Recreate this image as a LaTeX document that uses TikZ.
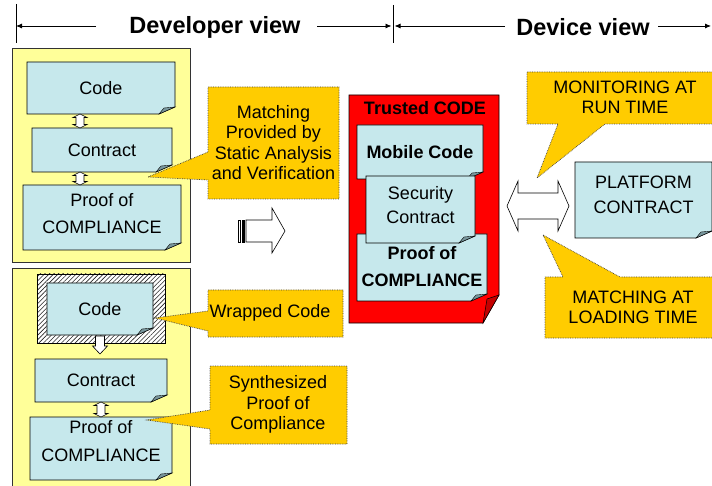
\documentclass[tikz,border=0pt]{standalone}
\usepackage{fontspec}
\setmainfont{Liberation Sans}
\usetikzlibrary{arrows.meta,patterns.meta}
\definecolor{ylw}{RGB}{255,255,153}
\definecolor{cyn}{RGB}{198,232,236}
\definecolor{cynfold}{RGB}{120,150,156}
\definecolor{gold}{RGB}{255,204,0}
\definecolor{tred}{RGB}{255,0,0}
\definecolor{dred}{RGB}{196,0,0}
\tikzset{
  panel/.style={fill=ylw,draw=black!80,line width=0.8pt},
  notebody/.style={fill=cyn,draw=black,line width=0.7pt},
  notefold/.style={fill=cynfold,draw=black,line width=0.4pt},
  txt/.style={font=\fontsize{18}{20}\selectfont,align=center,inner sep=0pt},
  btxt/.style={font=\fontsize{18}{20}\bfseries\selectfont,align=center,inner sep=0pt},
  callout/.style={fill=gold,draw=black!75,densely dotted,line width=0.7pt},
  warrow/.style={fill=white,draw=black,line width=0.6pt},
  hdr/.style={font=\fontsize{23.5}{26}\bfseries\selectfont,inner sep=0pt},
  hline/.style={line width=0.8pt,-{Latex[length=6pt,width=5pt]}},
  tick/.style={line width=0.8pt},
  redbody/.style={fill=tred,draw=black,line width=0.7pt},
  redfold/.style={fill=dred,draw=black,line width=0.5pt},
  hatch/.style={pattern={Lines[angle=45,distance=3.2pt,line width=0.6pt]},pattern color=black!85,draw=black,line width=0.7pt},
}
% folded-corner note: [node opts]{name}{x1}{y1}{x2}{y2}{text}
\newcommand\fnote[7][]{%
  \filldraw[notebody] (#3,#4) -- (#5,#4) -- ({#5},{#6-7}) -- ({#5-16},{#6}) -- (#3,#6) -- cycle;
  \filldraw[notefold] ({#5-16},{#6}) .. controls ({#5-14},{#6-3}) .. ({#5-11},{#6-6}) -- ({#5},{#6-7}) -- cycle;
  \node[txt,#1] (#2) at ({(#3+#5)/2},{(#4+#6)/2}) {#7};
}
% vertical double arrow: cx, ytop, ybot
\newcommand\vdarrow[3]{%
  \filldraw[warrow] (#1,#2) -- ({#1+7},{#2+3.5}) -- ({#1+4},{#2+3.5}) -- ({#1+4},{#3-3.5}) -- ({#1+7},{#3-3.5}) -- (#1,#3)
    -- ({#1-7},{#3-3.5}) -- ({#1-4},{#3-3.5}) -- ({#1-4},{#2+3.5}) -- ({#1-7},{#2+3.5}) -- cycle;
}
\begin{document}
\begin{tikzpicture}[x=1pt,y=-1pt]
\useasboundingbox (0,0) rectangle (712,486);
\fill[white] (0,0) rectangle (712,486);
\clip (0,0) rectangle (712,486);

% ---------- header ----------
\node[hdr] (devv) at (215,27) {Developer view};
\node[hdr] (dvcv) at (583,27) {Device view};
\coordinate (tkA1) at (16,4);  \coordinate (tkA2) at (16,43);
\coordinate (tkB1) at (393,5); \coordinate (tkB2) at (393,43);
\draw[tick] (tkA1) -- (tkA2);
\draw[tick] (tkB1) -- (tkB2);
\coordinate (la) at (96,26);  \coordinate (lb) at (317,26);
\coordinate (lc) at (505,26); \coordinate (ld) at (658,26);
\coordinate (le) at (711,26);
\draw[hline] (la) -- (la -| tkA1);
\draw[hline] (lb) -- ([xshift=-1.5pt]lb -| tkB1);
\draw[hline] (lc) -- ([xshift=1.5pt]lc -| tkB1);
\draw[hline] (ld) -- (le);

% ---------- developer panels ----------
\filldraw[panel] (12,48) rectangle (190,262);
\filldraw[panel] (12,268) rectangle (190,492);

\fnote{code1}{27}{62}{175}{114}{Code}
\fnote{contr1}{32}{128}{172}{172}{Contract}
\fnote[yshift=4pt,font=\fontsize{18}{27}\selectfont]{proof1}{23}{185}{181}{250}{Proof of\\COMPLIANCE}
\vdarrow{80}{114}{128}
\vdarrow{80}{172}{185}

% wrapped code
\fill[white] (37,274) rectangle (165,343);
\filldraw[hatch] (37,274) rectangle (165,343);
\fnote{code2}{47}{283}{153}{335}{Code}
\fnote{contr2}{35}{359}{167}{402}{Contract}
\fnote[yshift=7pt,font=\fontsize{18}{28}\selectfont]{proof2}{30}{417}{172}{480}{Proof of\\COMPLIANCE}
\filldraw[warrow] (95.5,336) -- (104.5,336) -- (104.5,346) -- (107.5,346) -- (100,354) -- (92.5,346) -- (95.5,346) -- cycle;
\vdarrow{101}{402}{417}

% ---------- striped arrow ----------
\filldraw[warrow] (238,220) rectangle (240.5,242);
\filldraw[fill=black,draw=black,line width=0.6pt] (242,220) rectangle (244.5,242);
\filldraw[warrow] (246,220) -- (272,220) -- (272,208) -- (285,231) -- (272,253) -- (272,242) -- (246,242) -- cycle;

% ---------- trusted code ----------
\filldraw[redbody] (349,95) -- (499,95) -- (499,295) -- (483,323) -- (349,323) -- cycle;
\filldraw[redfold] (483,323) -- (487,299) -- (499,295) -- cycle;
\node[btxt] (trusted) at (425,108) {Trusted CODE};
\fnote[font=\fontsize{18}{20}\bfseries\selectfont]{mobile}{357}{125}{483}{179}{Mobile Code}
\fnote[yshift=1pt,font=\fontsize{18}{27}\bfseries\selectfont]{proofT}{357}{234}{487}{301}{Proof of\\COMPLIANCE}
\fnote[yshift=4pt,font=\fontsize{18}{24}\selectfont]{secc}{366}{176}{475}{243}{Security\\Contract}

% ---------- device side ----------
\filldraw[warrow] (507,206) -- (518,181) -- (518,193) -- (558,193) -- (558,181) -- (569,206) -- (558,231) -- (558,219) -- (518,219) -- (518,231) -- cycle;
\fnote[yshift=5pt,font=\fontsize{18}{25}\selectfont]{platf}{575}{162}{712}{238}{PLATFORM\\CONTRACT}

% ---------- callouts ----------
\filldraw[callout] (208,87) -- (339,87) -- (339,199) -- (208,199) -- (208,180) -- (148,177) -- (208,152) -- cycle;
\node[txt,font=\fontsize{18}{20.5}\selectfont] (cmatch) at (273.5,142.5) {Matching\\Provided by\\Static Analysis\\and Verification};

\filldraw[callout] (208,290) -- (343,290) -- (343,337) -- (208,337) -- (208,331) -- (155,318) -- (208,311) -- cycle;
\node[txt] (cwrap) at (270,313) {Wrapped Code};

\filldraw[callout] (210,366) -- (347,366) -- (347,444) -- (210,444) -- (210,429) -- (147,420) -- (210,410) -- cycle;
\node[txt,font=\fontsize{18}{20.5}\selectfont] (csynth) at (278,404.5) {Synthesized\\Proof of\\Compliance};

\filldraw[callout] (527,72) -- (720,72) -- (720,124) -- (605,124) -- (537,178) -- (558,124) -- (527,124) -- cycle;
\node[txt] (cmon) at (625,97) {MONITORING AT\\RUN TIME};

\filldraw[callout] (545,277) -- (563,277) -- (543,235) -- (620,277) -- (720,277) -- (720,338) -- (545,338) -- cycle;
\node[txt] (cload) at (633,307) {MATCHING AT\\LOADING TIME};
\end{tikzpicture}
\end{document}
